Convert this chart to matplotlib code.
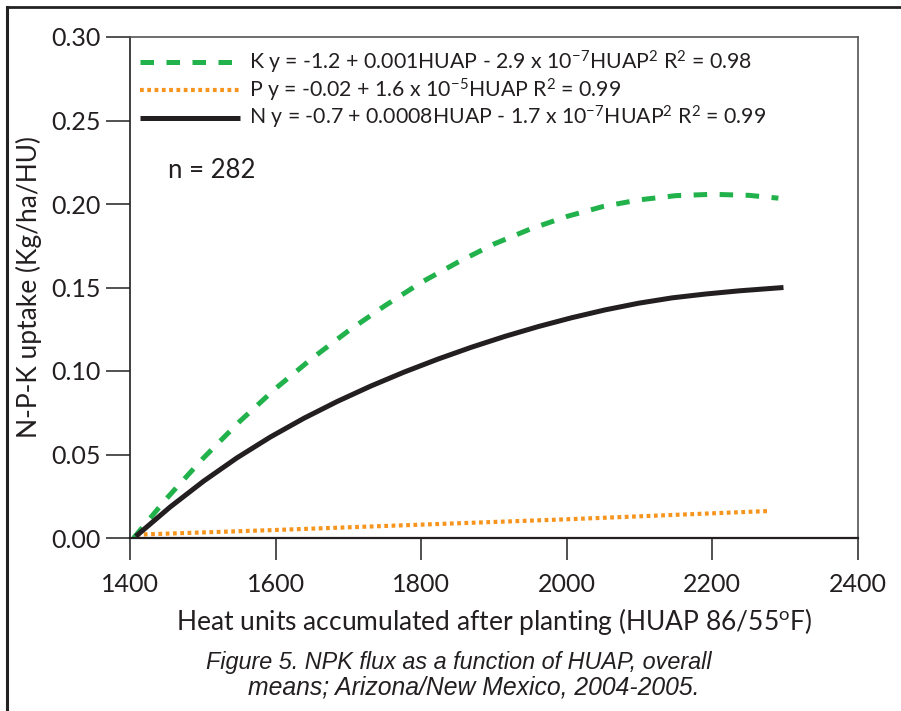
import matplotlib
matplotlib.use("Agg")
import matplotlib.pyplot as plt
from matplotlib.lines import Line2D
from matplotlib import font_manager

# ---- data ----
k_x = [1405, 1450, 1500, 1550, 1600, 1650, 1700, 1750, 1800, 1850, 1900, 1950,
       2000, 2050, 2100, 2150, 2200, 2250, 2291]
k_y = [0.000, 0.0235, 0.0475, 0.0695, 0.0895, 0.1075, 0.1240, 0.1390, 0.1530,
       0.1650, 0.1760, 0.1850, 0.1925, 0.1985, 0.2025, 0.2050, 0.2058, 0.2052,
       0.2035]

p_x = [1409, 1600, 1800, 2000, 2280]
p_y = [0.002, 0.0048, 0.0080, 0.0112, 0.0162]

n_x = [1408, 1455, 1501, 1547, 1593, 1639, 1685, 1731, 1777, 1823, 1869, 1915,
       1961, 2007, 2053, 2099, 2145, 2191, 2237, 2298]
n_y = [0.001, 0.0185, 0.0340, 0.0480, 0.0605, 0.0717, 0.0818, 0.0910, 0.0994,
       0.1071, 0.1142, 0.1207, 0.1266, 0.1319, 0.1366, 0.1406, 0.1438, 0.1461,
       0.1480, 0.1500]

labels = [
    r"K y = -1.2 + 0.001HUAP - 2.9 x 10$^{\mathregular{-7}}$HUAP$^{\mathregular{2}}$ R$^{\mathregular{2}}$ = 0.98",
    r"P y = -0.02 + 1.6 x 10$^{\mathregular{-5}}$HUAP R$^{\mathregular{2}}$ = 0.99",
    r"N y = -0.7 + 0.0008HUAP - 1.7 x 10$^{\mathregular{-7}}$HUAP$^{\mathregular{2}}$ R$^{\mathregular{2}}$ = 0.99",
]
x_ticks = [1400, 1600, 1800, 2000, 2200, 2400]
y_ticks = [0.00, 0.05, 0.10, 0.15, 0.20, 0.25, 0.30]

FONT = "Lato"
plt.rcParams["font.family"] = [FONT, "DejaVu Sans"]
plt.rcParams["mathtext.fontset"] = "custom"
plt.rcParams["mathtext.rm"] = FONT
plt.rcParams["mathtext.it"] = FONT + ":italic"
plt.rcParams["mathtext.default"] = "regular"

names = {f.name for f in font_manager.fontManager.ttflist}
cap_font = "Liberation Sans Narrow" if "Liberation Sans Narrow" in names else "Liberation Sans"

TXT = "#231f20"
GREEN = "#21b24b"
ORANGE = "#f7941d"

fig = plt.figure(figsize=(9.01, 7.11), dpi=100)
W, H = 901, 711
ax = fig.add_axes([130 / W, 1 - 538 / H, (857.7 - 130) / W, (538 - 37) / H])

ax.plot(k_x, k_y, color=GREEN, lw=3.6, dashes=(2.7, 2.5), solid_capstyle="butt",
        dash_capstyle="butt", label=labels[0])
ax.plot(p_x, p_y, color=ORANGE, lw=3.0, dashes=(0.9, 0.85), dash_capstyle="butt",
        label=labels[1])
ax.plot(n_x, n_y, color=TXT, lw=3.6, solid_capstyle="butt", label=labels[2])

ax.set_xlim(1400, 2400)
ax.set_ylim(0, 0.30)
ax.set_xticks(x_ticks)
ax.set_xticklabels([str(v) for v in x_ticks])
ax.set_yticks(y_ticks)
ax.set_yticklabels([f"{v:.2f}" for v in y_ticks])

ax.tick_params(axis="x", direction="out", length=16, width=1.2, color="#333333",
               labelsize=18, pad=9.5, labelcolor=TXT)
ax.tick_params(axis="y", direction="out", length=17, width=1.2, color="#333333",
               labelsize=18, pad=4, labelcolor=TXT)

for side in ["left", "bottom"]:
    ax.spines[side].set_color("#231f20")
ax.spines["left"].set_linewidth(1.2)
ax.spines["bottom"].set_linewidth(1.6)
for side in ["top", "right"]:
    ax.spines[side].set_color("#555555")
    ax.spines[side].set_linewidth(1.2)

ax.set_xlabel(r"Heat units accumulated after planting (HUAP 86/55$^{\mathregular{o}}$F)",
              fontsize=19, color=TXT, labelpad=7)
ax.set_ylabel("N-P-K uptake (Kg/ha/HU)", fontsize=19, color=TXT, labelpad=7)

leg = ax.legend(loc="upper left", bbox_to_anchor=(10 / 727.7, 1 - 12 / 501),
                frameon=False, fontsize=15.3, handlelength=4.7, handletextpad=0.42,
                labelspacing=0.02, borderpad=0, borderaxespad=0)
for t in leg.get_texts():
    t.set_color(TXT)

ax.text(0.052, 0.733, "n = 282", transform=ax.transAxes, fontsize=18.5,
        color=TXT, va="center", ha="left")

fig.text(459 / W, 1 - 662 / H, "Figure 5. NPK flux as a function of HUAP, overall",
         family=[cap_font, "DejaVu Sans"], style="italic", fontsize=16.8,
         color=TXT, ha="center", va="center")
fig.text(474 / W, 1 - 688 / H, "means; Arizona/New Mexico, 2004-2005.",
         family=[cap_font, "DejaVu Sans"], style="italic", fontsize=17.8,
         color=TXT, ha="center", va="center")

# outer frame (top and left edges)
fig.add_artist(Line2D([7 / W, 1.0], [1 - 7 / H, 1 - 7 / H], transform=fig.transFigure,
                      color="#222222", lw=2.0))
fig.add_artist(Line2D([7 / W, 7 / W], [0.0, 1 - 7 / H], transform=fig.transFigure,
                      color="#222222", lw=2.2))

fig.savefig("out.png", dpi=100)
